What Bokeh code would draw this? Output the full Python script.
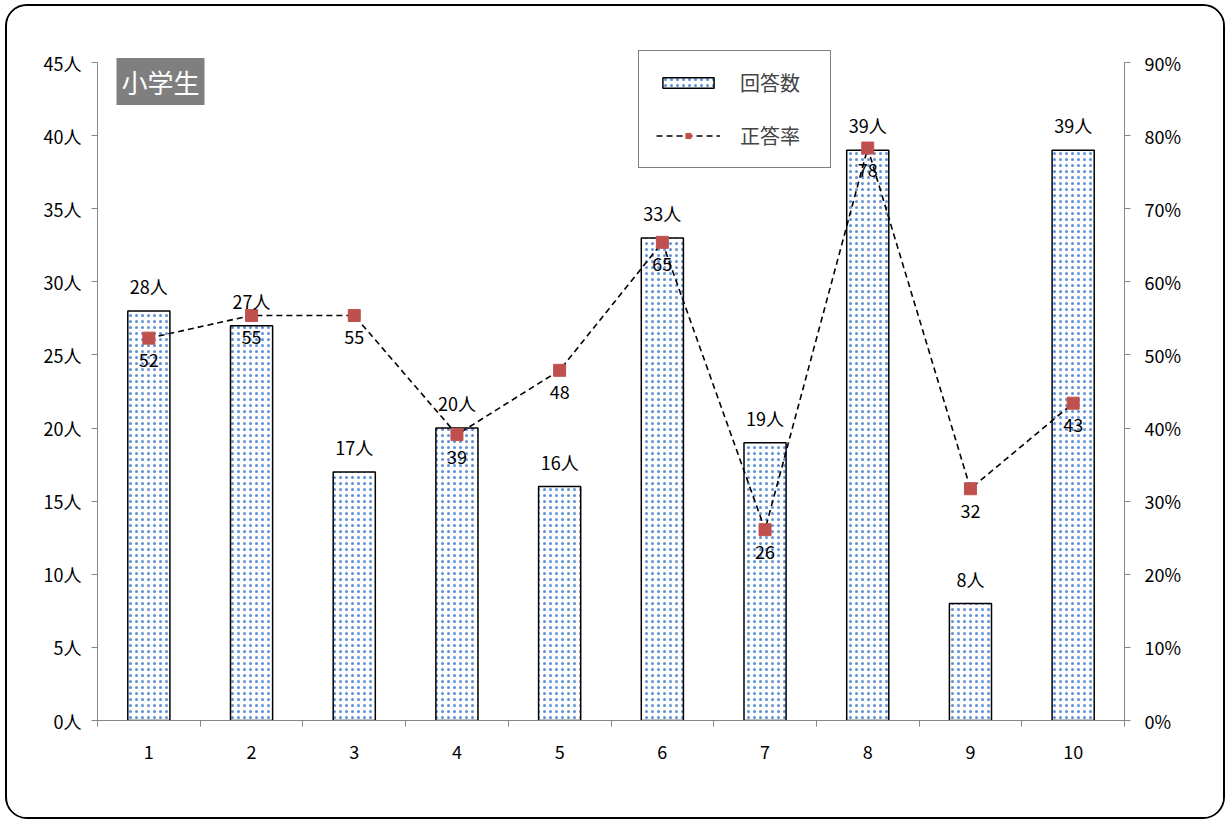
from bokeh.plotting import figure
from bokeh.models import (ColumnDataSource, Range1d, LinearAxis, FixedTicker, SingleIntervalTicker,
                          PrintfTickFormatter, Legend, LegendItem, Label)
from bokeh.core.properties import value
from bokeh.embed import file_html
from bokeh.resources import INLINE

questions = [1, 2, 3, 4, 5, 6, 7, 8, 9, 10]
answers = [28, 27, 17, 20, 16, 33, 19, 39, 8, 39]
rates = [52.3, 55.4, 55.4, 39.1, 47.9, 65.4, 26.1, 78.3, 31.7, 43.4]
title_text = "小学生"
bar_name = "回答数"
line_name = "正答率"

FONT = "Noto Sans CJK JP"

src = ColumnDataSource(dict(
    x=questions, n=answers, r=rates,
    nlab=[f"{v}人" for v in answers],
    rlab=[f"{round(v)}" for v in rates],
))

# canvas (border-box of the rounded frame)
W, H = 1220, 815
FR_TOP = 20          # frame top (canvas px)
Y45 = 56             # canvas px of the 45 tick
FR_BOT = 714
PX_PER = (FR_BOT - Y45) / 45.0
ytop = 45 + (Y45 - FR_TOP) / PX_PER
rtop = 90 + (Y45 - FR_TOP) / PX_PER * 2

p = figure(width=W, height=H, output_backend="svg", toolbar_location=None,
           x_range=Range1d(0.5, 10.5), y_range=Range1d(0, ytop),
           min_border_left=90, min_border_right=W - 1117, min_border_top=FR_TOP,
           min_border_bottom=H - FR_BOT)
p.styles = {"margin-left": "5px", "margin-top": "4px", "border": "2px solid black",
            "border-radius": "22px", "overflow": "hidden"}
p.outline_line_color = None
p.xgrid.visible = False
p.ygrid.visible = False
p.background_fill_color = "white"
p.border_fill_color = "white"

p.extra_y_ranges = {"rate": Range1d(0, rtop)}

AX = "#868686"

# left axis
ya = p.yaxis[0]
ya.ticker = SingleIntervalTicker(interval=5)
ya.bounds = (0, 45)
ya.formatter = PrintfTickFormatter(format="%d人")
ya.axis_line_color = AX
ya.major_tick_line_color = AX
ya.major_tick_out = 6
ya.major_tick_in = 0
ya.minor_tick_line_color = None
ya.major_label_text_font = FONT
ya.major_label_text_font_size = "18px"
ya.major_label_text_color = "black"
ya.major_label_standoff = 10

# right axis
ra = LinearAxis(y_range_name="rate", ticker=SingleIntervalTicker(interval=10),
                formatter=PrintfTickFormatter(format="%d%%"), bounds=(0, 90))
ra.axis_line_color = AX
ra.major_tick_line_color = AX
ra.major_tick_out = 6
ra.major_tick_in = 0
ra.minor_tick_line_color = None
ra.major_label_text_font = FONT
ra.major_label_text_font_size = "18px"
ra.major_label_text_color = "black"
ra.major_label_standoff = 14
p.add_layout(ra, "right")

# x axis
xa = p.xaxis[0]
xa.ticker = FixedTicker(ticks=questions, minor_ticks=[q - 0.5 for q in questions] + [10.5])
xa.axis_line_color = AX
xa.major_tick_line_color = None
xa.major_tick_out = 0
xa.major_tick_in = 0
xa.minor_tick_line_color = AX
xa.minor_tick_out = 6
xa.minor_tick_in = 0
xa.major_label_text_font = FONT
xa.major_label_text_font_size = "18px"
xa.major_label_text_color = "black"
xa.major_label_standoff = 18

bars = p.vbar(x="x", top="n", width=0.41, source=src, fill_color="white",
              line_color="black", line_width=1.5,
              hatch_pattern="dot", hatch_color="#5b8fd6", hatch_scale=6, hatch_weight=1)

line = p.line(x="x", y="r", source=src, y_range_name="rate", line_color="black",
              line_width=1.6, line_dash="6 4")
marks = p.scatter(x="x", y="r", source=src, y_range_name="rate", marker="square",
                  size=12, fill_color="#c0504d", line_color="#c0504d")

p.text(x="x", y="n", text="nlab", source=src, text_align="center", text_baseline="bottom",
       y_offset=-12, text_font=value(FONT), text_font_size="18px", text_color="black")
p.text(x="x", y="r", text="rlab", source=src, y_range_name="rate", text_align="center",
       text_baseline="top", y_offset=15, text_font=value(FONT), text_font_size="18px",
       text_color="black")

legend = Legend(items=[LegendItem(label=bar_name, renderers=[bars]),
                       LegendItem(label=line_name, renderers=[line, marks])],
                location=(541, 552), orientation="vertical",
                border_line_color="black", border_line_width=1.5,
                padding=17, spacing=24, margin=0,
                glyph_width=64, glyph_height=13, label_standoff=20, label_width=73,
                label_text_font=FONT, label_text_font_size="20px",
                background_fill_color="white", background_fill_alpha=1)
p.add_layout(legend, "center")

title = Label(x=0.685, y=45.3, text=title_text, text_font=FONT, text_font_size="26px",
              text_color="white", text_baseline="top", text_align="left",
              background_fill_color="#7f7f7f", padding=5)
p.add_layout(title)

open("out.html", "w").write(file_html(p, INLINE))
